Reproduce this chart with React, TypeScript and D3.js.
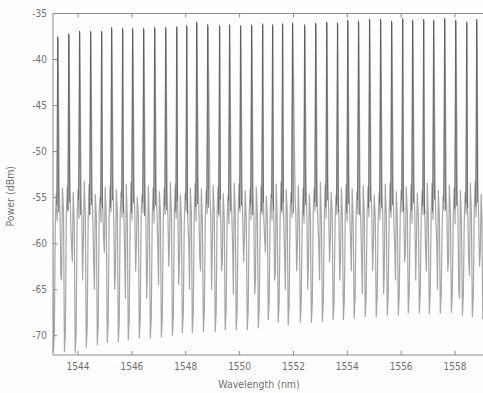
import React from 'react';
import * as d3 from 'd3';

// Peak (lasing line) wavelengths in nm
const peakWavelengths = [
  1543.26, 1543.67, 1544.07, 1544.48, 1544.89, 1545.26, 1545.67, 1546.04, 1546.45, 1546.86,
  1547.27, 1547.68, 1548.05, 1548.42, 1548.83, 1549.27, 1549.64, 1550.05, 1550.46, 1550.87,
  1551.24, 1551.61, 1551.98, 1552.43, 1552.84, 1553.25, 1553.65, 1554.03, 1554.43, 1554.84,
  1555.25, 1555.66, 1556.07, 1556.44, 1556.85, 1557.22, 1557.63, 1558.04, 1558.45, 1558.82,
];
// Peak power (dBm)
const peakPower = [
  -37.5, -37.2, -36.9, -36.9, -36.9, -36.5, -36.6, -36.6, -36.6, -36.5,
  -36.5, -36.4, -36.3, -35.9, -36.2, -36.3, -36.2, -36.3, -36.2, -36.1,
  -36.2, -36.1, -36.0, -36.2, -36.0, -35.9, -36.0, -35.7, -35.8, -35.6,
  -35.6, -35.8, -35.5, -35.7, -35.6, -35.7, -35.5, -35.7, -35.9, -35.6,
];
// Deep notch minimum before each peak (dBm)
const troughPower = [
  -71.8, -71.8, -71.9, -71.3, -71.0, -70.8, -70.7, -70.5, -70.3, -70.3,
  -70.2, -70.0, -69.7, -69.7, -69.6, -69.6, -69.4, -69.4, -69.4, -69.2,
  -68.3, -68.6, -68.9, -68.6, -68.6, -68.5, -68.3, -68.3, -68.1, -68.0,
  -68.0, -67.8, -67.8, -67.6, -67.6, -67.6, -67.6, -67.5, -67.8, -68.0,
];
// Secondary (shallower) notch before each peak (dBm)
const notchPower = [
  -66.0, -63.5, -60.5, -64.0, -62.0, -59.5, -65.0, -61.0, -63.0, -66.0,
  -60.0, -62.5, -64.5, -59.5, -61.5, -65.0, -63.0, -60.0, -62.0, -65.5,
  -59.5, -64.0, -61.0, -63.0, -65.0, -60.0, -62.0, -64.0, -59.5, -61.5,
  -63.0, -65.5, -60.0, -62.0, -64.0, -61.0, -59.5, -63.0, -65.0, -62.0,
];
// Noise band upper / lower levels (dBm)
const bandHigh = [
  -53.6, -54.2, -53.4, -54.8, -53.9, -54.4, -53.2, -54.6, -53.8, -54.1,
  -53.5, -54.9, -53.7, -54.3, -53.3, -54.7, -53.9, -54.0, -53.6, -54.5,
  -53.4, -54.2, -53.8, -54.8, -53.5, -54.1, -53.7, -54.6, -53.3, -54.4,
  -53.9, -54.0, -53.6, -54.7, -53.5, -54.3, -53.8, -54.5, -53.4, -54.2,
];
const bandLow = [
  -57.2, -56.6, -57.8, -56.9, -57.4, -56.4, -57.9, -56.8, -57.1, -57.6,
  -56.5, -57.3, -56.9, -57.7, -56.6, -57.2, -57.5, -56.7, -57.8, -56.9,
  -57.3, -56.5, -57.6, -56.8, -57.1, -57.9, -56.6, -57.4, -56.9, -57.5,
  -56.7, -57.2, -57.8, -56.5, -57.3, -56.9, -57.6, -56.8, -57.1, -57.4,
];
// Floor of the dark (laser) trace on each side of its peaks (dBm)
const blackFloorLeft = [
  -55.8, -56.4, -55.2, -56.9, -55.6, -56.1, -55.0, -56.7, -55.5, -56.3,
  -55.9, -56.6, -55.3, -56.0, -55.7, -56.8, -55.4, -56.2, -55.8, -56.5,
  -55.1, -56.4, -55.6, -56.9, -55.5, -56.0, -55.8, -56.7, -55.3, -56.1,
  -55.7, -56.5, -55.2, -56.3, -55.9, -56.6, -55.4, -56.2, -55.6, -56.0,
];
const blackFloorRight = [
  -56.6, -55.5, -56.9, -55.8, -56.2, -55.3, -56.7, -55.6, -57.0, -55.9,
  -56.4, -55.4, -56.8, -55.7, -56.1, -55.2, -56.5, -55.9, -56.9, -55.6,
  -56.3, -55.5, -56.7, -55.8, -56.0, -55.3, -56.6, -55.7, -56.9, -55.4,
  -56.2, -55.8, -56.5, -55.6, -56.8, -55.2, -56.4, -55.9, -56.1, -55.5,
];
// Tail after the last line (dBm)
const tailPower = [-53.8, -57.2, -62.5, -61.0, -54.6, -57.0, -68.2, -66.5, -56.8];

const xTicks = [1544, 1546, 1548, 1550, 1552, 1554, 1556, 1558];
const yTicks = [-35, -40, -45, -50, -55, -60, -65, -70];

const W = 483;
const H = 393;
const L = 53;
const R = 483;
const T = 13.5;
const B = 355;

const FONT = "'Liberation Sans Narrow', 'DejaVu Sans Condensed', 'Liberation Sans', Arial, sans-serif";

export default function App() {
  const x = d3.scaleLinear().domain([1543.07, 1559.04]).range([L, R]);
  const y = d3.scaleLinear().domain([-72.1, -35]).range([B, T]);
  const line = d3.line<[number, number]>().x((d) => x(d[0])).y((d) => y(d[1]));
  const n = peakWavelengths.length;

  const grayPts: [number, number][] = [];
  peakWavelengths.forEach((p, k) => {
    grayPts.push(
      [p - 0.37, bandHigh[k]],
      [p - 0.34, bandLow[k]],
      [p - 0.31, notchPower[k]],
      [p - 0.28, notchPower[(k + 2) % n]],
      [p - 0.25, bandHigh[(k + 3) % n]],
      [p - 0.21, bandLow[(k + 4) % n]],
      [p - 0.175, troughPower[k]],
      [p - 0.14, troughPower[k] + 2.2],
      [p - 0.105, bandLow[(k + 6) % n]],
      [p - 0.07, bandHigh[(k + 7) % n]],
      [p - 0.035, bandLow[(k + 9) % n]],
      [p, peakPower[k] - 0.15],
    );
  });
  const last = peakWavelengths[n - 1];
  const tailOffsets = [0.03, 0.06, 0.09, 0.12, 0.15, 0.18, 0.21, 0.25, 0.29];
  tailPower.forEach((v, i) => grayPts.push([last + tailOffsets[i], v]));

  const blackPaths = peakWavelengths.map((p, k) =>
    line([
      [p - 0.05, blackFloorLeft[k]],
      [p - 0.016, peakPower[k]],
      [p + 0.02, blackFloorRight[k]],
    ]) as string,
  );

  const axisColor = '#8c8c8c';
  const textColor = '#6e6e6e';

  return (
    <svg
      width={W}
      height={H}
      style={{ position: 'absolute', left: 0, top: 0, background: '#fff' }}
      fontFamily={FONT}
    >
      <defs>
        <clipPath id="plot">
          <rect x={L} y={T} width={R - L} height={B - T} />
        </clipPath>
      </defs>
      <rect x={0} y={0} width={W} height={H} fill="#fefefe" />
      <g clipPath="url(#plot)">
        <path d={line(grayPts) as string} fill="none" stroke="#a6a6a6" strokeWidth={1.2} />
        {blackPaths.map((d, i) => (
          <path key={i} d={d} fill="none" stroke="#555555" strokeWidth={0.9} strokeOpacity={0.85} />
        ))}
      </g>
      {/* axes frame */}
      <line x1={L} x2={R} y1={T} y2={T} stroke={axisColor} strokeWidth={1} />
      <line x1={L} x2={R} y1={B} y2={B} stroke={axisColor} strokeWidth={1} />
      <line x1={L} x2={L} y1={T} y2={B} stroke={axisColor} strokeWidth={1} />
      {xTicks.map((t) => (
        <g key={t}>
          <line x1={x(t)} x2={x(t)} y1={B} y2={B - 4} stroke={axisColor} />
          <line x1={x(t)} x2={x(t)} y1={T} y2={T + 4} stroke={axisColor} />
          <text x={x(t)} y={B + 15} textAnchor="middle" fontSize={10} fill={textColor}>
            {t}
          </text>
        </g>
      ))}
      {yTicks.map((t) => (
        <g key={t}>
          <line x1={L} x2={L + 4} y1={y(t)} y2={y(t)} stroke={axisColor} />
          <text x={L - 6} y={y(t) + 3.5} textAnchor="end" fontSize={10} fill={textColor}>
            {t}
          </text>
        </g>
      ))}
      <text x={259} y={388} textAnchor="middle" fontSize={10.5} fill={textColor}>
        Wavelength (nm)
      </text>
      <text
        transform={`translate(14, ${(T + B) / 2 + 12}) rotate(-90)`}
        textAnchor="middle"
        fontSize={10.5}
        fill={textColor}
      >
        Power (dBm)
      </text>
    </svg>
  );
}
